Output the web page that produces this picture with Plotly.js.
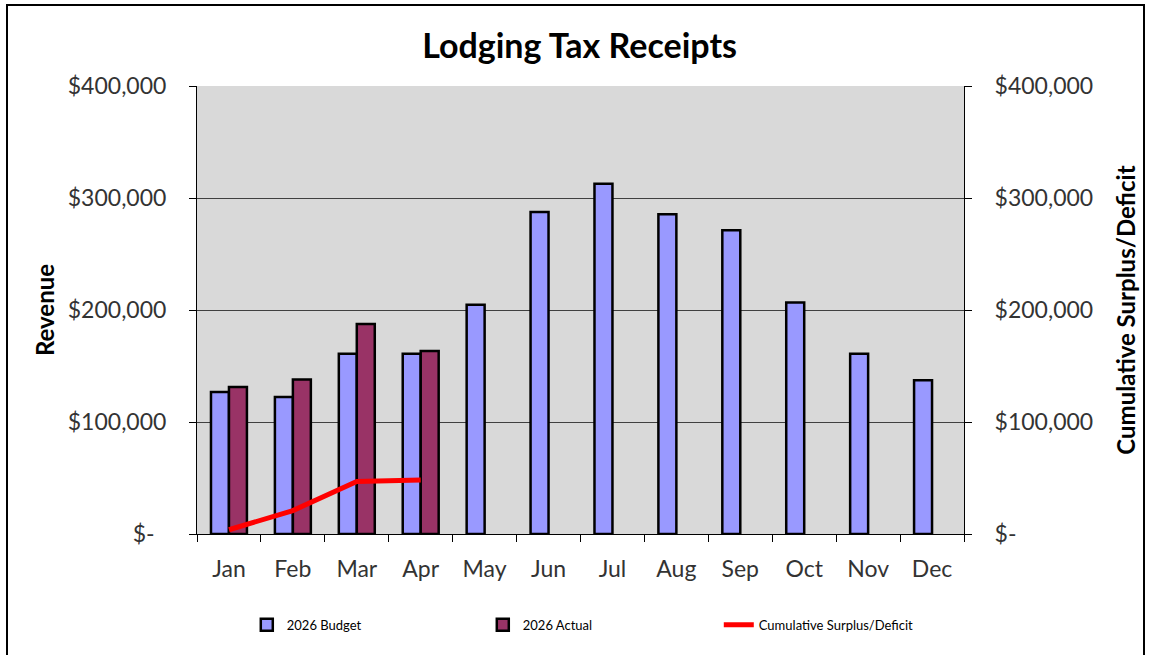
<!DOCTYPE html>
<html>
<head>
<meta charset="utf-8">
<script src="https://cdn.plot.ly/plotly-3.0.1.min.js"></script>
<style>
  html, body { margin: 0; padding: 0; background: #fff; }
  #frame { position: absolute; left: 6px; top: 4px; width: 1139px; height: 700px; border: 2px solid #000; box-sizing: border-box; }
  #chart { position: absolute; left: 0; top: 0; width: 1150px; height: 655px; }
</style>
</head>
<body>
<div id="frame"></div>
<div id="chart"></div>
<script>
const months = ["Jan","Feb","Mar","Apr","May","Jun","Jul","Aug","Sep","Oct","Nov","Dec"];
const budget2026 = [126800, 122300, 161000, 161000, 204700, 287400, 312700, 285600, 271300, 206800, 161000, 137200];
const actual2026 = [131200, 138000, 187400, 163500, null, null, null, null, null, null, null, null];
const cumulativeMonths = ["Jan","Feb","Mar","Apr"];
const cumulativeSurplus = [3800, 20900, 46800, 48300];
const tickValues = [0, 100000, 200000, 300000, 400000];
const tickLabels = ["$-\u00a0\u00a0", "$100,000", "$200,000", "$300,000", "$400,000"];

const FONT = "Lato, 'Open Sans', sans-serif";

const traces = [
  {
    type: "bar", name: "2026 Budget", x: months, y: budget2026,
    marker: { color: "#9999FF", line: { color: "#000", width: 2.5 } },
    hoverinfo: "skip"
  },
  {
    type: "bar", name: "2026 Actual", x: months, y: actual2026,
    marker: { color: "#993366", line: { color: "#000", width: 2.5 } },
    hoverinfo: "skip"
  },
  {
    type: "scatter", mode: "lines", name: "Cumulative Surplus/Deficit",
    x: cumulativeMonths, y: cumulativeSurplus, yaxis: "y2",
    line: { color: "#FF0000", width: 5 },
    hoverinfo: "skip"
  }
];

const axisY = {
  range: [0, 400000], tickvals: tickValues, ticktext: tickLabels,
  showline: true, linecolor: "#000", linewidth: 1,
  ticks: "outside", ticklen: 7, tickcolor: "#000",
  tickfont: { family: FONT, size: 23, color: "#333" },
  fixedrange: true, zeroline: false, automargin: false
};

const layout = {
  width: 1150, height: 655,
  paper_bgcolor: "rgba(0,0,0,0)",
  plot_bgcolor: "#D9D9D9",
  margin: { l: 197, r: 186, t: 86, b: 121 },
  barmode: "group", bargap: 0.4375, bargroupgap: 0,
  title: {
    text: "<b>Lodging Tax Receipts</b>",
    font: { family: FONT, size: 34, color: "#000" },
    x: 0.504, xanchor: "center", y: 0.93, yanchor: "middle"
  },
  xaxis: {
    type: "category", tickson: "boundaries",
    showline: true, linecolor: "#000", linewidth: 1,
    ticks: "outside", ticklen: 7, tickcolor: "#000",
    tickfont: { family: FONT, size: 23, color: "#333" },
    ticklabelstandoff: 14, automargin: false,
    showgrid: false, fixedrange: true
  },
  yaxis: Object.assign({}, axisY, {
    showgrid: true, gridcolor: "#404040", gridwidth: 1,
    ticklabelstandoff: 18,
    title: { text: "<b>Revenue</b>", font: { family: FONT, size: 24, color: "#000" }, standoff: 6 }
  }),
  yaxis2: Object.assign({}, axisY, {
    overlaying: "y", side: "right", showgrid: false,
    ticklabelstandoff: 18,
    title: { text: "<b>Cumulative Surplus/Deficit</b>", font: { family: FONT, size: 24, color: "#000" }, standoff: 25 }
  }),
  showlegend: true,
  legend: {
    orientation: "h", xref: "container", yref: "container",
    x: 0.2146, xanchor: "left", y: 0.046, yanchor: "middle",
    entrywidth: 191, entrywidthmode: "pixels",
    font: { family: FONT, size: 13, color: "#000" },
    traceorder: "normal", bgcolor: "rgba(0,0,0,0)"
  }
};

Plotly.newPlot("chart", traces, layout, { displayModeBar: false, staticPlot: true });
</script>
</body>
</html>
